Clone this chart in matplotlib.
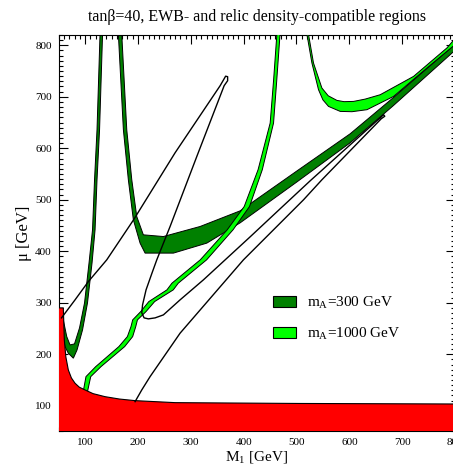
import matplotlib
matplotlib.use("Agg")
import matplotlib.pyplot as plt
from matplotlib.patches import Patch
from matplotlib.ticker import MultipleLocator

plt.rcParams['font.family'] = ['Liberation Serif', 'DejaVu Serif']
plt.rcParams['mathtext.default'] = 'regular'

# excluded region (red), upper boundary
red_x = [50, 58.7, 59.5, 60.6, 63.5, 68.2, 74.0, 80.9, 89.0, 99.8, 115.0, 137.7, 165.0, 194.5, 270.3, 507, 800]
red_y = [290, 290, 265, 228, 195, 169.5, 154.0, 143.7, 136.0, 130.7, 123.5, 117.6, 113.0, 109.9, 106.0, 104.4, 103.4]

# m_A = 300 GeV, narrow V near the left edge (outer edge, then inner edge)
v_out_x = [133.0, 127.3, 122.5, 118.8, 113.1, 104.5, 95.1, 84.7, 77.7, 68.2, 61.9, 58.7, 55.6]
v_out_y = [821.7, 636.0, 538.8, 441.6, 377.5, 299.8, 247.3, 208.4, 192.3, 202.0, 214.8, 234.3, 253.7]
v_in_x = [58.7, 65.2, 71.4, 79.9, 89.4, 98.9, 107.4, 114.0, 117.8, 122.5, 128.2]
v_in_y = [266.7, 234.3, 218.1, 220.1, 251.2, 299.8, 377.5, 441.6, 538.8, 636.0, 821.7]

# m_A = 300 GeV, U shape running into the diagonal band
u_out_x = [162.9, 172.4, 181.8, 191.3, 204.0, 213.5, 267.1, 330.3, 393.4, 501.3, 601.7, 683.1, 796.6, 830]
u_out_y = [821.7, 636.0, 538.8, 461.1, 415.8, 396.4, 396.4, 415.8, 455.2, 535.0, 610.7, 682.6, 787.0, 816.0]
u_in_x = [830, 796.6, 683.1, 601.7, 501.3, 393.4, 317.6, 248.1, 210.2, 197.7, 188.3, 178.8, 169.3]
u_in_y = [829.0, 799.0, 698.2, 628.2, 556.3, 478.5, 448.1, 428.6, 431.9, 467.5, 538.8, 636.0, 821.7]

# m_A = 1000 GeV, band rising from the red region to the top
g_left_x = [95.8, 101.6, 120.0, 163.8, 180.0, 186.8, 190.0, 205.2, 220.6, 254.8, 264.3, 317.9, 368.9, 401.1, 427.3, 450.2, 456.7, 462.9]
g_right_x = [103.8, 110.6, 130.0, 174.8, 190.0, 195.8, 199.0, 215.2, 231.6, 266.8, 276.3, 329.9, 379.9, 411.1, 435.3, 456.6, 462.7, 468.9]
g_y = [124.2, 156.5, 175.9, 214.8, 234.3, 253.7, 266.7, 282.8, 302.3, 325.0, 338.0, 383.3, 441.6, 486.9, 558.3, 649.0, 732.5, 821.7]

# m_A = 1000 GeV, U shape in the upper right
lu_out_x = [519.7, 529.2, 541.7, 550.0, 560.6, 582.8, 605.0, 633.4, 683.7, 747.0, 797.4, 830]
lu_out_y = [821.7, 765.6, 713.7, 694.0, 681.3, 671.6, 671.0, 674.9, 700.7, 756.0, 799.0, 830.0]
lu_in_x = [830, 797.4, 784.9, 721.6, 658.5, 630.0, 608.0, 590.0, 576.5, 560.0, 548.1, 532.2, 522.7]
lu_in_y = [845.0, 810.0, 795.0, 739.6, 704.0, 695.5, 691.0, 690.5, 693.0, 702.0, 717.0, 765.6, 821.7]

# EWB-compatible contour
ewb_x = [55.3, 80.9, 106.1, 140.9, 191.7, 270.3, 355.5, 362.1, 365.9, 369.7, 369.7, 363.1,
         311.9, 260.8, 235.6, 226.7, 215.3, 208.7, 207.2, 211.6, 219.7, 232.4, 248.1, 279.7,
         323.9, 412.3, 469.1, 526.0, 601.7, 664.8, 667.1, 660.5, 548.1, 513.3, 399.6, 279.7,
         222.9, 207.2, 194.5]
ewb_y = [270.6, 305.6, 341.1, 383.3, 461.1, 591.3, 721.5, 733.2, 740.0, 739.0, 731.2, 721.5,
         585.5, 448.1, 383.3, 358.1, 325.0, 295.9, 280.3, 270.6, 268.7, 270.6, 276.4, 305.6,
         344.5, 428.0, 482.5, 536.9, 606.8, 665.2, 662.2, 657.4, 538.8, 499.9, 383.3, 240.9,
         156.5, 130.7, 107.9]

dark = '#008000'
light = '#00ff00'

fig = plt.figure(figsize=(4.53, 4.69), dpi=100)
ax = fig.add_axes([0.1296, 0.080, 0.8748, 0.8454])

ax.fill(v_out_x + v_in_x, v_out_y + v_in_y, facecolor=dark, edgecolor='black', lw=0.7, zorder=2)
ax.fill(u_out_x + u_in_x, u_out_y + u_in_y, facecolor=dark, edgecolor='black', lw=0.7, zorder=2)
ax.fill(g_left_x + g_right_x[::-1], g_y + g_y[::-1], facecolor=light,
        edgecolor='black', lw=0.7, zorder=3)
ax.fill(lu_out_x + lu_in_x, lu_out_y + lu_in_y, facecolor=light, edgecolor='black', lw=0.7, zorder=3)

ax.fill_between(red_x, 0, red_y, facecolor='red', edgecolor='none', zorder=4)
ax.plot(red_x, red_y, color='black', lw=0.8, zorder=5)

ax.plot(ewb_x, ewb_y, color='black', lw=1.0, zorder=6)

ax.set_xlim(50, 800)
ax.set_ylim(50, 820)
ax.xaxis.set_major_locator(MultipleLocator(100))
ax.xaxis.set_minor_locator(MultipleLocator(10))
ax.yaxis.set_major_locator(MultipleLocator(100))
ax.yaxis.set_minor_locator(MultipleLocator(10))
ax.tick_params(which='both', direction='in', top=True, right=True, width=0.8, labelsize=8)
ax.tick_params(which='major', length=6.5)
ax.tick_params(which='minor', length=3.2)
ax.tick_params(axis='x', pad=5)
ax.tick_params(axis='y', pad=5)
for s in ax.spines.values():
    s.set_linewidth(0.8)

ax.set_xlabel('M$_1$ [GeV]', fontsize=11, labelpad=1)
ax.set_ylabel('μ [GeV]', fontsize=12, labelpad=2)
ax.set_title('tanβ=40, EWB- and relic density-compatible regions', fontsize=11.5, pad=10)

handles = [Patch(facecolor=dark, edgecolor='black', lw=0.8),
           Patch(facecolor=light, edgecolor='black', lw=0.8)]
ax.legend(handles, ['m$_A$=300 GeV', 'm$_A$=1000 GeV'], loc='upper left',
          bbox_to_anchor=(0.505, 0.38), frameon=False, fontsize=11,
          handlelength=1.55, handleheight=0.75, handletextpad=0.7, labelspacing=1.0)

fig.savefig('out.png', dpi=100)
